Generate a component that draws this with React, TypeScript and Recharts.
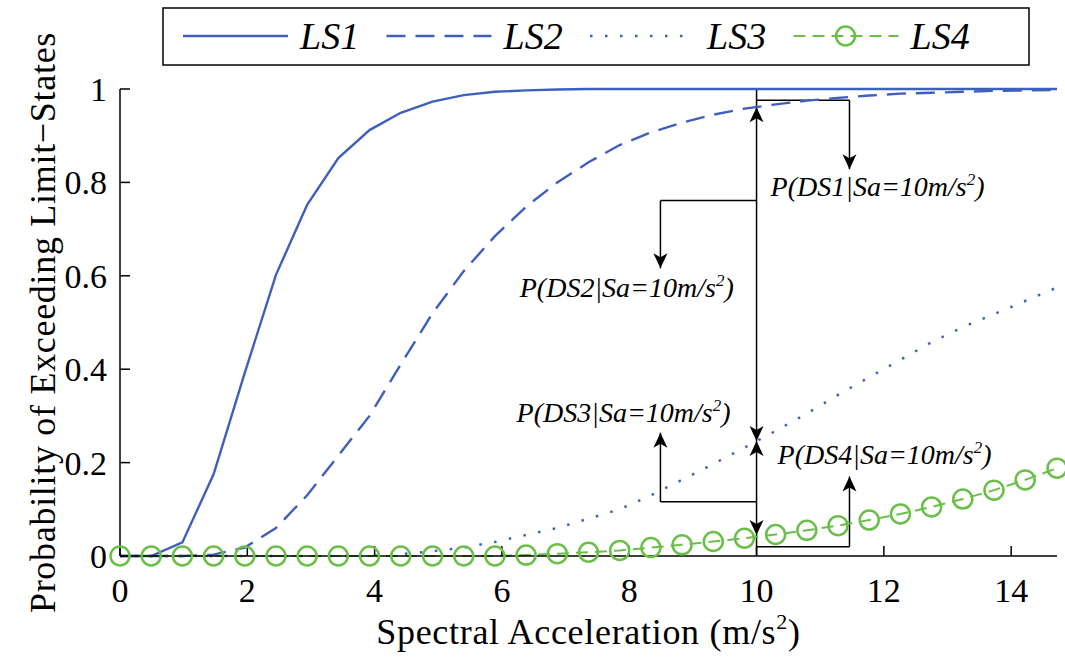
import { LineChart, Line, XAxis, YAxis, ReferenceLine, ReferenceDot, Legend } from 'recharts'

// spectral acceleration steps (0.05g each, in m/s^2)
const sa = [
  0, 0.49, 0.98, 1.47, 1.96, 2.45, 2.94, 3.43, 3.92, 4.41, 4.91, 5.4, 5.89, 6.38, 6.87, 7.36,
  7.85, 8.34, 8.83, 9.32, 9.81, 10.3, 10.79, 11.28, 11.77, 12.26, 12.75, 13.24, 13.73, 14.22, 14.72,
]
const ls1 = [
  0, 0, 0.029, 0.175, 0.392, 0.602, 0.752, 0.852, 0.912, 0.949, 0.973, 0.987, 0.994, 0.997, 0.999, 1,
  1, 1, 1, 1, 1, 1, 1, 1, 1, 1, 1, 1, 1, 1, 1,
]
const ls2 = [
  0, 0, 0, 0.003, 0.018, 0.06, 0.13, 0.215, 0.3, 0.41, 0.52, 0.61, 0.685, 0.748, 0.8, 0.843,
  0.88, 0.907, 0.928, 0.945, 0.958, 0.967, 0.975, 0.981, 0.986, 0.99, 0.992, 0.994, 0.996, 0.997, 0.998,
]
const ls3 = [
  0, 0, 0, 0, 0, 0, 0, 0, 0, 0.004, 0.01, 0.018, 0.03, 0.045, 0.06, 0.08,
  0.1, 0.13, 0.163, 0.197, 0.232, 0.268, 0.305, 0.345, 0.383, 0.42, 0.458, 0.49, 0.518, 0.546, 0.575,
]
const ls4 = [
  0, 0, 0, 0, 0, 0, 0, 0, 0, 0, 0, 0, 0, 0.002, 0.005, 0.008,
  0.012, 0.018, 0.024, 0.031, 0.038, 0.046, 0.055, 0.065, 0.077, 0.09, 0.105, 0.122, 0.141, 0.163, 0.188,
]

const xTicks = [0, 2, 4, 6, 8, 10, 12, 14]
const yTicks = [0, 0.2, 0.4, 0.6, 0.8, 1]

// annotation at Sa = 10 m/s^2 (data coordinates)
const guideSegments = [
  [{ x: 10, y: 1 }, { x: 10, y: 0 }],
  [{ x: 10, y: 0.976 }, { x: 11.46, y: 0.976 }],
  [{ x: 11.46, y: 0.976 }, { x: 11.46, y: 0.828 }],
  [{ x: 10, y: 0.761 }, { x: 8.49, y: 0.761 }],
  [{ x: 8.49, y: 0.761 }, { x: 8.49, y: 0.616 }],
  [{ x: 10, y: 0.116 }, { x: 8.49, y: 0.116 }],
  [{ x: 8.49, y: 0.116 }, { x: 8.49, y: 0.264 }],
  [{ x: 10, y: 0.02 }, { x: 11.46, y: 0.02 }],
  [{ x: 11.46, y: 0.02 }, { x: 11.46, y: 0.17 }],
]
const arrowTips = [
  { x: 10, y: 0.961, dir: 'up' },
  { x: 10, y: 0.246, dir: 'down' },
  { x: 10, y: 0.246, dir: 'up' },
  { x: 10, y: 0.045, dir: 'down' },
  { x: 11.46, y: 0.828, dir: 'down' },
  { x: 8.49, y: 0.616, dir: 'down' },
  { x: 8.49, y: 0.264, dir: 'up' },
  { x: 11.46, y: 0.17, dir: 'up' },
]
const dsLabels = [
  { ds: 'DS1', x: 10.22, y: 0.77 },
  { ds: 'DS2', x: 6.28, y: 0.554 },
  { ds: 'DS3', x: 6.23, y: 0.288 },
  { ds: 'DS4', x: 10.33, y: 0.198 },
]

const BLUE = '#3f5fbd'
const GREEN = '#6abf48'
const SERIF = 'Liberation Serif, Times New Roman, Times, DejaVu Serif, serif'

const series = [
  { key: 'LS1', values: ls1, color: BLUE, dash: undefined, width: 2.4 },
  { key: 'LS2', values: ls2, color: BLUE, dash: '19 10', width: 2.4 },
  { key: 'LS3', values: ls3, color: BLUE, dash: '2.5 12.5', width: 2.5 },
  { key: 'LS4', values: ls4, color: GREEN, dash: '12 7', width: 2 },
]

const chartData = sa.map((x, i) => {
  const row: Record<string, number> = { sa: x }
  series.forEach((s) => {
    row[s.key] = s.values[i]
  })
  return row
})

function Arrow({ cx, cy, dir }: { cx: number; cy: number; dir: string }) {
  const s = dir === 'up' ? 1 : -1
  const pts = `${cx},${cy} ${cx - 7},${cy + s * 15} ${cx},${cy + s * 11} ${cx + 7},${cy + s * 15}`
  return <polygon points={pts} fill="#000" />
}

function DsText({ cx, cy, ds }: { cx: number; cy: number; ds: string }) {
  return (
    <text x={cx} y={cy} style={{ fontFamily: SERIF, fontStyle: 'italic', fontSize: 28 }} fill="#000">
      {`P(${ds}|Sa=10m/s`}
      <tspan style={{ fontSize: 17 }} dy={-11}>2</tspan>
      <tspan dy={11}>)</tspan>
    </text>
  )
}

function XLabel({ viewBox }: any) {
  const cx = viewBox.x + viewBox.width / 2
  return (
    <text
      x={cx}
      y={viewBox.y + 88}
      textAnchor="middle"
      style={{ fontFamily: SERIF, fontSize: 36, letterSpacing: 0.7 }}
      fill="#000"
    >
      Spectral Acceleration (m/s
      <tspan style={{ fontSize: 22 }} dy={-15}>2</tspan>
      <tspan dy={15}>)</tspan>
    </text>
  )
}

function YLabel({ viewBox }: any) {
  const x = viewBox.x + 55
  const y = viewBox.y + viewBox.height / 2
  return (
    <text
      x={x}
      y={y}
      transform={`rotate(-90 ${x} ${y})`}
      textAnchor="middle"
      style={{ fontFamily: SERIF, fontSize: 36, letterSpacing: 0.7 }}
      fill="#000"
    >
      Probability of Exceeding Limit−States
    </text>
  )
}

function LegendBox() {
  return (
    <svg width={868} height={60}>
      <rect x={1} y={1} width={866} height={57} fill="#fff" stroke="#000" strokeWidth={1.5} />
      {series.map((s, i) => {
        const x0 = 21 + i * 203.5
        return (
          <g key={s.key}>
            <line x1={x0} y1={29} x2={x0 + 105} y2={29} stroke={s.color} strokeWidth={s.width} strokeDasharray={s.dash} />
            {s.key === 'LS4' && (
              <circle cx={x0 + 52} cy={29} r={9.5} fill="none" stroke={s.color} strokeWidth={2.5} />
            )}
            <text x={x0 + 117} y={42} style={{ fontFamily: SERIF, fontStyle: 'italic', fontSize: 38 }} fill="#000">
              {s.key}
            </text>
          </g>
        )
      })}
    </svg>
  )
}

const tickStyle = { fill: '#000', fontSize: 34, style: { fontFamily: SERIF } }

export default function App() {
  return (
    <div
      style={{ position: 'absolute', left: 0, top: 0, width: 1065, height: 671, background: '#fff', fontFamily: SERIF }}
    >
      <LineChart width={1065} height={671} data={chartData} margin={{ top: 89, right: 8, bottom: 0, left: 0 }}>
        <XAxis
          dataKey="sa"
          type="number"
          domain={[0, 14.72]}
          ticks={xTicks}
          height={115}
          stroke="#000"
          strokeWidth={1.5}
          tickSize={-10}
          tickMargin={32}
          tick={tickStyle}
          label={<XLabel />}
        />
        <XAxis
          xAxisId="top"
          orientation="top"
          dataKey="sa"
          type="number"
          domain={[0, 14.72]}
          ticks={xTicks}
          height={0}
          stroke="#000"
          strokeWidth={1.5}
          tickSize={-10}
          tick={false}
        />
        <YAxis
          type="number"
          domain={[0, 1]}
          ticks={yTicks}
          width={120}
          stroke="#000"
          strokeWidth={1.5}
          tickSize={-10}
          tickMargin={23}
          tick={tickStyle}
          label={<YLabel />}
        />
        <YAxis
          yAxisId="right"
          orientation="right"
          type="number"
          domain={[0, 1]}
          ticks={yTicks}
          width={0}
          stroke="#000"
          strokeWidth={1.5}
          tickSize={-10}
          tick={false}
        />
        <Legend
          verticalAlign="middle"
          layout="horizontal"
          content={<LegendBox />}
          wrapperStyle={{ top: 7, left: 162, width: 868, height: 60 }}
        />
        {guideSegments.map((seg, i) => (
          <ReferenceLine key={`seg-${i}`} segment={seg} stroke="#000" strokeWidth={1.5} ifOverflow="visible" />
        ))}
        {series.map((s) =>
          s.key === 'LS4' ? (
            <Line
              key={s.key}
              dataKey={s.key}
              type="linear"
              stroke={s.color}
              strokeWidth={s.width}
              strokeDasharray={s.dash}
              dot={{ r: 9.5, stroke: s.color, strokeWidth: 2.5, fill: 'none', strokeDasharray: '' }}
              isAnimationActive={false}
            />
          ) : (
            <Line
              key={s.key}
              dataKey={s.key}
              type="linear"
              stroke={s.color}
              strokeWidth={s.width}
              strokeDasharray={s.dash}
              dot={false}
              isAnimationActive={false}
            />
          )
        )}
        {arrowTips.map((a, i) => (
          <ReferenceDot
            key={`arrow-${i}`}
            x={a.x}
            y={a.y}
            ifOverflow="visible"
            shape={(p: any) => <Arrow cx={p.cx} cy={p.cy} dir={a.dir} />}
          />
        ))}
        {dsLabels.map((d) => (
          <ReferenceDot
            key={d.ds}
            x={d.x}
            y={d.y}
            ifOverflow="visible"
            shape={(p: any) => <DsText cx={p.cx} cy={p.cy} ds={d.ds} />}
          />
        ))}
      </LineChart>
    </div>
  )
}
